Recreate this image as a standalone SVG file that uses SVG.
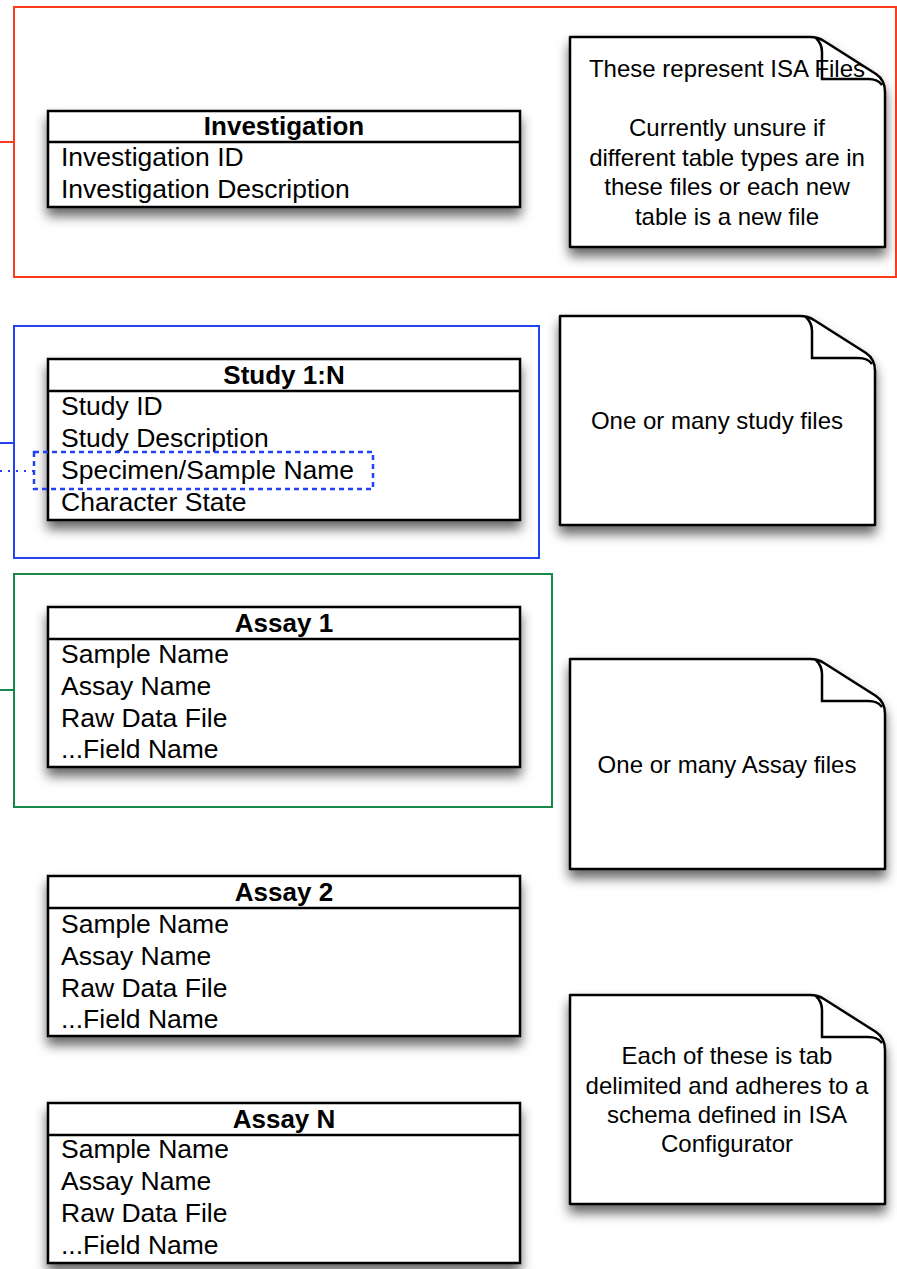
<svg xmlns="http://www.w3.org/2000/svg" width="897" height="1269" viewBox="0 0 897 1269">
<defs>
<filter id="sh" x="-10%" y="-15%" width="130%" height="150%">
<feDropShadow dx="0" dy="8" stdDeviation="6" flood-color="#000" flood-opacity="0.6"/>
</filter>
<style>
.tbl{fill:#fff;stroke:#000;stroke-width:2.5}
.div{stroke:#000;stroke-width:2.5;fill:none}
.hd{font-family:"Liberation Sans",Arial,Helvetica,sans-serif;font-size:26px;font-weight:bold;text-anchor:middle;fill:#000}
.row{font-family:"Liberation Sans",Arial,Helvetica,sans-serif;font-size:26.5px;fill:#000}
.note{fill:#fff;stroke:#000;stroke-width:2.5;stroke-linejoin:round}
.flap{fill:none;stroke:#000;stroke-width:2.5}
.nt{font-family:"Liberation Sans",Arial,Helvetica,sans-serif;font-size:24px;text-anchor:middle;fill:#000}
.fr{fill:none;stroke-width:2}
</style>
</defs>

<g id="frame-investigation"><rect class="fr" x="14" y="7" width="882" height="270" stroke="#fc3a1c"/></g>
<g id="frame-study"><rect class="fr" x="14" y="326" width="525" height="232" stroke="#2143f5"/></g>
<g id="frame-assay"><rect class="fr" x="14" y="574" width="538" height="233" stroke="#16894a"/></g>

<g id="connectors">
<line x1="0" y1="142" x2="14" y2="142" stroke="#fc3a1c" stroke-width="2"/>
<line x1="0" y1="443" x2="14" y2="443" stroke="#2143f5" stroke-width="2"/>
<line x1="0" y1="471" x2="34" y2="471" stroke="#2143f5" stroke-width="2" stroke-dasharray="2,6"/>
<line x1="0" y1="690" x2="14" y2="690" stroke="#16894a" stroke-width="2"/>
</g>

<g id="investigation">
<rect class="tbl" x="48" y="111" width="472" height="96" filter="url(#sh)"/>
<line class="div" x1="48" y1="142" x2="520" y2="142"/>
<text class="hd" x="284" y="135">Investigation</text>
<text class="row" x="61" y="166">Investigation ID</text>
<text class="row" x="61" y="198">Investigation Description</text>
</g>

<g id="study">
<rect class="tbl" x="48" y="359" width="472" height="161" filter="url(#sh)"/>
<line class="div" x1="48" y1="391" x2="520" y2="391"/>
<text class="hd" x="284" y="384">Study 1:N</text>
<text class="row" x="61" y="415">Study ID</text>
<text class="row" x="61" y="447">Study Description</text>
<text class="row" x="61" y="479">Specimen/Sample Name</text>
<text class="row" x="61" y="511">Character State</text>
</g>

<g id="sample-highlight">
<rect x="34" y="452" width="339" height="37" fill="none" stroke="#2143f5" stroke-width="2.5" stroke-dasharray="5,4"/>
</g>

<g id="assay1">
<rect class="tbl" x="48" y="607" width="472" height="160" filter="url(#sh)"/>
<line class="div" x1="48" y1="639" x2="520" y2="639"/>
<text class="hd" x="284" y="632">Assay 1</text>
<text class="row" x="61" y="663">Sample Name</text>
<text class="row" x="61" y="695">Assay Name</text>
<text class="row" x="61" y="727">Raw Data File</text>
<text class="row" x="61" y="758">...Field Name</text>
</g>

<g id="assay2">
<rect class="tbl" x="48" y="876" width="472" height="160" filter="url(#sh)"/>
<line class="div" x1="48" y1="908" x2="520" y2="908"/>
<text class="hd" x="284" y="901">Assay 2</text>
<text class="row" x="61" y="933">Sample Name</text>
<text class="row" x="61" y="965">Assay Name</text>
<text class="row" x="61" y="997">Raw Data File</text>
<text class="row" x="61" y="1028">...Field Name</text>
</g>

<g id="assayN">
<rect class="tbl" x="48" y="1103" width="472" height="160" filter="url(#sh)"/>
<line class="div" x1="48" y1="1135" x2="520" y2="1135"/>
<text class="hd" x="284" y="1128">Assay N</text>
<text class="row" x="61" y="1158">Sample Name</text>
<text class="row" x="61" y="1190">Assay Name</text>
<text class="row" x="61" y="1222">Raw Data File</text>
<text class="row" x="61" y="1254">...Field Name</text>
</g>

<g id="note-isa-files">
<path class="note" filter="url(#sh)" d="M570,37 H810 Q818,37 824,41 L876,74 Q885,80 885,92 V247 H570 Z"/>
<path class="flap" d="M816,38 Q822,44 822,52 V79 H868 Q878,79 882,85"/>
<text class="nt" x="727" y="77">These represent ISA Files</text>
<text class="nt" x="727" y="136">Currently unsure if</text>
<text class="nt" x="727" y="165.5">different table types are in</text>
<text class="nt" x="727" y="195">these files or each new</text>
<text class="nt" x="727" y="224.5">table is a new file</text>
</g>

<g id="note-study">
<path class="note" filter="url(#sh)" d="M560,316 H800 Q808,316 814,320 L866,353 Q875,359 875,371 V525 H560 Z"/>
<path class="flap" d="M806,317 Q812,323 812,331 V358 H858 Q868,358 872,364"/>
<text class="nt" x="717" y="429">One or many study files</text>
</g>

<g id="note-assay">
<path class="note" filter="url(#sh)" d="M570,659 H810 Q818,659 824,663 L876,696 Q885,702 885,714 V869 H570 Z"/>
<path class="flap" d="M816,660 Q822,666 822,674 V701 H868 Q878,701 882,707"/>
<text class="nt" x="727" y="773">One or many Assay files</text>
</g>

<g id="note-tab">
<path class="note" filter="url(#sh)" d="M570,995 H810 Q818,995 824,999 L876,1032 Q885,1038 885,1050 V1204 H570 Z"/>
<path class="flap" d="M816,996 Q822,1002 822,1010 V1037 H868 Q878,1037 882,1043"/>
<text class="nt" x="727" y="1064">Each of these is tab</text>
<text class="nt" x="727" y="1094">delimited and adheres to a</text>
<text class="nt" x="727" y="1123">schema defined in ISA</text>
<text class="nt" x="727" y="1152">Configurator</text>
</g>
</svg>
